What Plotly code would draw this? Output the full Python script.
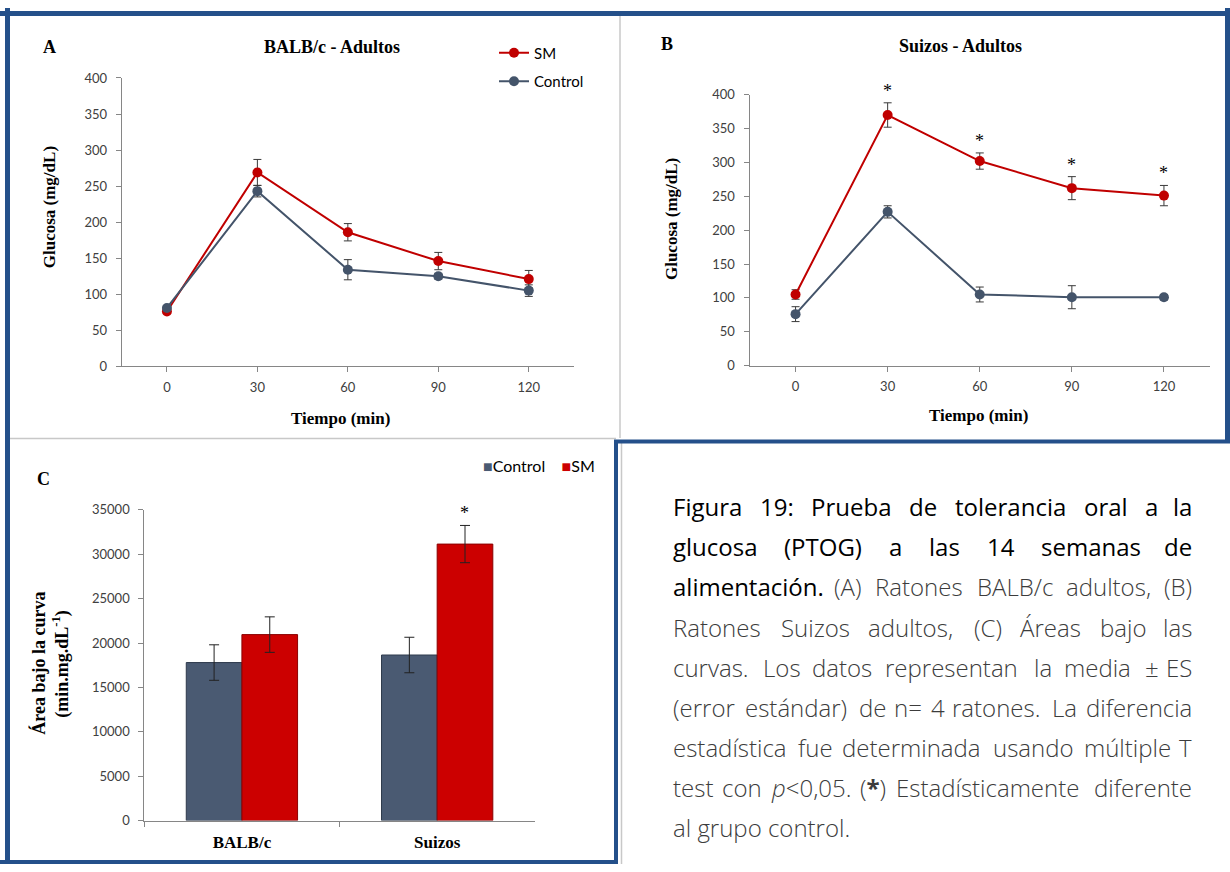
import plotly.graph_objects as go

# Prueba de tolerancia oral a la glucosa: glucemia (mg/dL) en cada tiempo (min)
tiempo = [0, 30, 60, 90, 120]

balb_sm = [76, 269, 186, 146, 121]
balb_sm_es = [3, 18, 12, 12, 12]
balb_ctrl = [81, 243, 134, 125, 105]
balb_ctrl_es = [3, 8, 14, 4, 8]

suiz_sm = [105, 370, 302, 262, 251]
suiz_sm_es = [7, 18, 12, 17, 15]
suiz_ctrl = [76, 227, 105, 101, 101]
suiz_ctrl_es = [11, 9, 11, 17, 4]
suiz_sig = [False, True, True, True, True]

# Áreas bajo la curva (min.mg.dL-1)
cepas = ["BALB/c", "Suizos"]
abc_ctrl = [17800, 18650]
abc_ctrl_es = [2000, 2000]
abc_sm = [20950, 31150]
abc_sm_es = [2000, 2100]
abc_sig = [False, True]

W, H = 1230, 872


def px(x):
    return x / W


def py(y):
    return 1 - y / H


ROJO = "#C00000"
GRIS_AZUL = "#44546A"
BARRA_CTRL = "#4A5A72"
BARRA_SM = "#CC0000"
EJE = "#868686"
TXT_EJE = "#404040"
MARCO = "#24508A"
SERIF = "Liberation Serif, DejaVu Serif, serif"
SANS = "Lato, Liberation Sans, sans-serif"
CAP = "Open Sans, Noto Sans, sans-serif"

fig = go.Figure()

err_style = dict(type="data", color="#3A3A3A", thickness=1, width=4)

# Panel A
fig.add_trace(go.Scatter(
    x=tiempo, y=balb_sm, name="SM", mode="lines+markers", legendgroup="sm",
    line=dict(color=ROJO, width=2), marker=dict(color=ROJO, size=10),
    error_y=dict(array=balb_sm_es, **err_style), xaxis="x", yaxis="y"))
fig.add_trace(go.Scatter(
    x=tiempo, y=balb_ctrl, name="Control", mode="lines+markers", legendgroup="ctrl",
    line=dict(color=GRIS_AZUL, width=2), marker=dict(color=GRIS_AZUL, size=10),
    error_y=dict(array=balb_ctrl_es, **err_style), xaxis="x", yaxis="y"))

# Panel B
fig.add_trace(go.Scatter(
    x=tiempo, y=suiz_sm, name="SM", mode="lines+markers", showlegend=False,
    line=dict(color=ROJO, width=2), marker=dict(color=ROJO, size=10),
    error_y=dict(array=suiz_sm_es, **err_style), xaxis="x2", yaxis="y2"))
fig.add_trace(go.Scatter(
    x=tiempo, y=suiz_ctrl, name="Control", mode="lines+markers", showlegend=False,
    line=dict(color=GRIS_AZUL, width=2), marker=dict(color=GRIS_AZUL, size=10),
    error_y=dict(array=suiz_ctrl_es, **err_style), xaxis="x2", yaxis="y2"))

# Panel C
bar_err = dict(type="data", color="#222222", thickness=1, width=5)
fig.add_trace(go.Bar(
    x=cepas, y=abc_ctrl, name="Control", showlegend=False,
    marker=dict(color=BARRA_CTRL, line=dict(color="#2E3A4C", width=1)),
    error_y=dict(array=abc_ctrl_es, **bar_err), xaxis="x3", yaxis="y3"))
fig.add_trace(go.Bar(
    x=cepas, y=abc_sm, name="SM", showlegend=False,
    marker=dict(color=BARRA_SM, line=dict(color="#8A0000", width=1)),
    error_y=dict(array=abc_sm_es, **bar_err), xaxis="x3", yaxis="y3"))

BARGAP = 0.43
ann = []

# asteriscos de significancia
for t, v, e, s in zip(tiempo, suiz_sm, suiz_sm_es, suiz_sig):
    if s:
        ann.append(dict(x=t, y=v + e, xref="x2", yref="y2", text="*", showarrow=False,
                        yanchor="bottom", font=dict(family=SERIF, size=18, color="#000")))
# desplazamiento de la barra SM dentro de su grupo (px)
ancho_cat = (534.8 - 144.3) / len(cepas)
despl_sm = (1 - BARGAP) / 4 * ancho_cat
for c, v, e, s in zip(cepas, abc_sm, abc_sm_es, abc_sig):
    if s:
        ann.append(dict(x=c, y=v + e, xref="x3", yref="y3", text="*", showarrow=False,
                        xshift=despl_sm, yanchor="bottom",
                        font=dict(family=SERIF, size=18, color="#000")))


def label(x, y, text, size=17, angle=0, family=SERIF, color="#000", bold=True, xanchor="center"):
    ann.append(dict(x=px(x), y=py(y), xref="paper", yref="paper",
                    text=f"<b>{text}</b>" if bold else text, showarrow=False,
                    textangle=angle, xanchor=xanchor, yanchor="middle",
                    font=dict(family=family, size=size, color=color)))


label(49, 40, "A", 18)
label(332, 40, "BALB/c - Adultos", 18)
label(49, 203, "Glucosa (mg/dL)", 17, -90)
label(340, 418, "Tiempo (min)", 17)

label(667, 37, "B", 18)
label(960, 39, "Suizos - Adultos", 18)
label(671, 215, "Glucosa (mg/dL)", 17, -90)
label(978, 415, "Tiempo (min)", 17)

label(43, 480, "C", 18)
label(39, 668, "Área bajo la curva", 18, -90)
label(61, 668, "(min.mg.dL<sup>-1</sup>)", 18, -90)

# leyenda del panel C
label(481, 466,
      f"<span style='color:{BARRA_CTRL}'>■</span>Control"
      f"    <span style='color:{BARRA_SM}'>■</span>SM",
      16, family=SANS, bold=False, xanchor="left")

# Pie de figura, justificado palabra por palabra
ancho = {
    " ": .260, "a": .556, "b": .613, "c": .476, "d": .613, "e": .561, "f": .339, "g": .548,
    "h": .614, "i": .253, "j": .253, "l": .253, "m": .930, "n": .614, "o": .604, "p": .613,
    "r": .408, "s": .477, "t": .353, "u": .614, "v": .501, "z": .451, "A": .633, "B": .648,
    "C": .631, "D": .729, "E": .546, "F": .504, "G": .728, "L": .509, "O": .781, "P": .586,
    "R": .633, "S": .537, "T": .543, "Á": .633, "á": .556, "é": .561, "í": .253, "ó": .604,
    "ú": .614, ":": .266, ".": .266, ",": .245, "(": .296, ")": .296, "/": .367, "=": .572,
    "±": .572, "<": .572, "*": .551,
}
for d in "0123456789":
    ancho[d] = .572

NEGRO = "#000000"
GRIS = "#3C3C3C"
lineas = [
    [("Figura 19: Prueba de tolerancia oral a la", NEGRO)],
    [("glucosa (PTOG) a las 14 semanas de", NEGRO)],
    [("alimentación.", NEGRO), ("(A) Ratones BALB/c adultos, (B)", GRIS)],
    [("Ratones Suizos adultos, (C) Áreas bajo las", GRIS)],
    [("curvas. Los datos representan la media ± ES", GRIS)],
    [("(error estándar) de n= 4 ratones. La diferencia", GRIS)],
    [("estadística fue determinada usando múltiple T", GRIS)],
    [("test con p<0,05. (*) Estadísticamente diferente", GRIS)],
    [("al grupo control.", GRIS)],
]
FS = 24
izq, der = 670.6, 1194.0
y0, dy = 508, 40.9


def marcado(w):
    w = w.replace("<", "&lt;")
    if w.startswith("p&lt;"):
        w = "<i>p</i>" + w[1:]
    if w == "(*)":
        w = "(<b>*</b>)"
    return w


for i, partes in enumerate(lineas):
    palabras = [(w, col) for txt, col in partes for w in txt.split(" ")]
    yl = y0 + i * dy
    if i == len(lineas) - 1:
        txt = " ".join(w for w, _ in palabras)
        ann.append(dict(x=px(izq), y=py(yl), xref="paper", yref="paper", text=txt,
                        showarrow=False, xanchor="left", yanchor="middle",
                        font=dict(family=CAP, size=FS, color=GRIS, weight=300)))
        continue
    anchos = [sum(ancho.get(ch, .55) for ch in w) * FS for w, _ in palabras]
    hueco = (der - izq - sum(anchos)) / (len(palabras) - 1)
    x = izq
    for k, ((w, col), aw) in enumerate(zip(palabras, anchos)):
        ultimo = k == len(palabras) - 1
        ann.append(dict(x=px(der if ultimo else x), y=py(yl), xref="paper", yref="paper",
                        text=marcado(w), showarrow=False,
                        xanchor="right" if ultimo else "left", yanchor="middle",
                        font=dict(family=CAP, size=FS, color=col,
                                  weight=400 if col == NEGRO else 300)))
        x += aw + hueco

# Marcos de los paneles
shapes = []


def seg(x0, y0_, x1, y1, color, w):
    shapes.append(dict(type="line", xref="paper", yref="paper",
                       x0=px(x0), y0=py(y0_), x1=px(x1), y1=py(y1),
                       line=dict(color=color, width=w)))


seg(620, 8, 620, 438, "#C8C8C8", 1.5)
seg(10, 438.5, 616, 438.5, "#C8C8C8", 1.5)
seg(621.5, 443, 621.5, 872, "#C8C8C8", 1.5)
seg(0, 5.5, 1230, 5.5, MARCO, 5)
seg(7.5, 0, 7.5, 872, MARCO, 5)
seg(1227.5, 0, 1227.5, 443, MARCO, 5)
seg(614, 441.5, 1230, 441.5, MARCO, 4)
seg(616, 440, 616, 872, MARCO, 4)
seg(0, 870, 618, 870, MARCO, 4)

eje = dict(showline=True, linecolor=EJE, linewidth=1, ticks="outside", ticklen=5,
           tickcolor=EJE, showgrid=False, zeroline=False,
           tickfont=dict(family=SANS, size=13, color=TXT_EJE))

xt = dict(range=[-15, 135], tickvals=tiempo, ticklabelstandoff=4)
yt = dict(range=[0, 400], dtick=50, ticklabelstandoff=6)

fig.update_layout(
    width=W, height=H, margin=dict(l=0, r=0, t=0, b=0),
    paper_bgcolor="white", plot_bgcolor="white",
    xaxis=dict(domain=[px(121.7), px(574)], anchor="y", **xt, **eje),
    yaxis=dict(domain=[py(365), py(71.3)], anchor="x", **yt, **eje),
    xaxis2=dict(domain=[px(749.5), px(1210)], anchor="y2", **xt, **eje),
    yaxis2=dict(domain=[py(364.3), py(88.3)], anchor="x2", **yt, **eje),
    xaxis3=dict(domain=[px(144.3), px(534.8)], anchor="y3", type="category",
                tickson="boundaries", ticklabelstandoff=6,
                **{k: v for k, v in eje.items() if k != "tickfont"},
                tickfont=dict(family=SERIF, size=17, color="#000", weight="bold")),
    yaxis3=dict(domain=[py(827.7), py(511.3)], anchor="x3", range=[0, 35000], dtick=5000,
                tickformat="d", ticklabelstandoff=6, **eje),
    barmode="group", bargap=BARGAP, bargroupgap=0,
    legend=dict(x=px(494), y=py(29), xanchor="left", yanchor="top",
                bgcolor="rgba(0,0,0,0)", itemwidth=30, tracegroupgap=6,
                font=dict(family=SANS, size=15, color="#000")),
    annotations=ann, shapes=shapes,
)

# la figura ocupa toda la ventana, sin el margen por defecto del <body>
fig.write_html("out.html",
               post_script="document.body.style.margin='0';document.body.style.overflow='hidden';")
